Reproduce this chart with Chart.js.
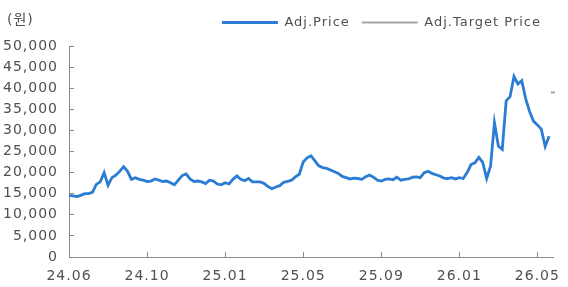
<!DOCTYPE html>
<html>
<head>
<meta charset="utf-8">
<script src="https://cdn.jsdelivr.net/npm/chart.js@4"></script>
<style>
  html, body { margin: 0; padding: 0; background: #fff; }
  #wrap { position: relative; width: 568px; height: 287px; }
</style>
</head>
<body>
<div id="wrap"><canvas id="Graph"></canvas></div>
<script>
// tick labels, one every 20 trading-day steps
const tickLabels = ['24.06', '24.10', '25.01', '25.05', '25.09', '26.01', '26.05'];
const tickStep = 20;

// adjusted price (원)
const adjPrice = [
    14600, 14500, 14300, 14600, 15000, 15000, 15300, 17200, 17800, 20000,
    17000, 18800, 19400, 20300, 21400, 20300, 18400, 18800, 18400, 18200,
    17900, 18000, 18500, 18200, 17900, 18000, 17600, 17100, 18200, 19300,
    19700, 18500, 17900, 18000, 17800, 17400, 18200, 18000, 17300, 17100,
    17600, 17300, 18400, 19200, 18400, 18100, 18600, 17800, 17800, 17800,
    17400, 16700, 16200, 16600, 16900, 17700, 17900, 18200, 19000, 19600,
    22500, 23500, 24000, 22800, 21600, 21200, 21000, 20600, 20200, 19800,
    19100, 18800, 18500, 18700, 18600, 18400, 19000, 19400, 18900, 18200,
    18000, 18400, 18500, 18300, 18900, 18200, 18400, 18500, 18900, 19000,
    18800, 20000, 20300, 19800, 19500, 19200, 18700, 18600, 18800, 18500,
    18800, 18600, 20000, 21900, 22300, 23600, 22400, 18600, 21500, 31800,
    26300, 25500, 37000, 38000, 42800, 41000, 41800, 37500, 34500, 32200,
    31300, 30300, 26200, 28600, null
];

// adjusted target price, only the latest one is shown
const adjTarget = [];
adjTarget[adjPrice.length - 1] = 39000;

const labels = adjPrice.map((v, i) => i);
const axisFont = { family: 'DejaVu Sans, Noto Sans CJK KR', size: 14 };
const legendFont = { family: 'DejaVu Sans, Noto Sans CJK KR', size: 13 };
const textColor = '#505050';

const spacing = {
    id: 'spacing',
    beforeLayout(chart) {
        chart.ctx.letterSpacing = '1px';
        // leave some room between the legend and the plot
        const lg = chart.legend;
        if (lg && !lg._roomy) {
            const fit = lg.fit;
            lg.fit = function () { fit.call(this); this.height += 7; };
            lg._roomy = true;
        }
    },
    beforeDraw(chart) { chart.ctx.letterSpacing = '1px'; }
};

const unitLabel = {
    id: 'unitLabel',
    afterDraw(chart) {
        const ctx = chart.ctx;
        ctx.save();
        ctx.font = '14px DejaVu Sans, Noto Sans CJK KR';
        ctx.fillStyle = textColor;
        ctx.textBaseline = 'middle';
        ctx.fillText('(원)', 7, 20);
        ctx.restore();
    }
};

const ctx = document.getElementById('Graph');

new Chart(ctx, {
    type: 'line',
    data: {
        labels: labels,
        datasets: [
            {
                label: 'Adj.Price',
                data: adjPrice,
                borderColor: '#2b7cd3',
                backgroundColor: '#2b7cd3',
                borderWidth: 2.8,
                pointRadius: 0,
                tension: 0
            },
            {
                label: 'Adj.Target Price',
                data: adjTarget,
                borderColor: '#a6a6a6',
                backgroundColor: '#a6a6a6',
                borderWidth: 2,
                pointStyle: 'line',
                pointRadius: 2,
                pointBorderWidth: 2,
                clip: false
            }
        ]
    },
    options: {
        responsive: true,
        maintainAspectRatio: false,
        animation: false,
        layout: { padding: { top: 4, right: 15, left: 0, bottom: 0 } },
        plugins: {
            legend: {
                align: 'end',
                labels: {
                    usePointStyle: true,
                    pointStyle: 'line',
                    pointStyleWidth: 56,
                    color: textColor,
                    font: legendFont,
                    padding: 12
                }
            },
            tooltip: { enabled: false }
        },
        scales: {
            x: {
                grid: { drawOnChartArea: false, tickLength: -5, color: '#8c8c8c' },
                border: { color: '#8c8c8c' },
                ticks: {
                    autoSkip: false,
                    maxRotation: 0,
                    color: textColor,
                    font: axisFont,
                    padding: 16,
                    callback: (v, i) => (i % tickStep === 0 ? tickLabels[i / tickStep] : null)
                },
                afterFit: s => { s.height = 30; s.paddingLeft = 0; s.paddingRight = 0; }
            },
            y: {
                min: 0,
                max: 50000,
                grid: { drawOnChartArea: false, tickLength: -5, color: '#8c8c8c' },
                border: { color: '#8c8c8c' },
                ticks: {
                    stepSize: 5000,
                    color: textColor,
                    font: axisFont,
                    padding: 16,
                    callback: v => v.toLocaleString('en-US')
                },
                afterFit: s => { s.width = 69; }
            }
        }
    },
    plugins: [spacing, unitLabel]
});
</script>
</body>
</html>
